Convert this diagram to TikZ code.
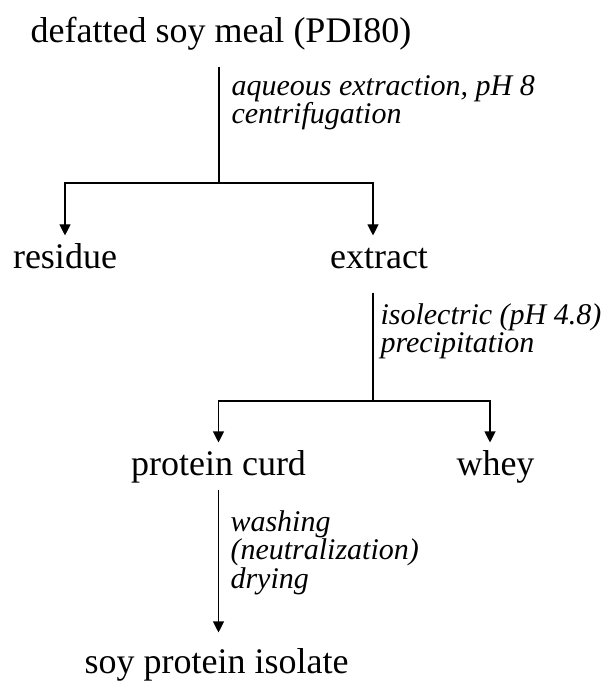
\documentclass[tikz,border=0pt]{standalone}
\usepackage{fontspec}
\setmainfont{Liberation Serif}
\usetikzlibrary{arrows.meta}

\begin{document}
\begin{tikzpicture}[x=1pt,y=-1pt,line width=1.1pt,
mat/.style={inner sep=0pt,anchor=base,text height=25pt,text depth=8pt,
  font=\fontsize{36}{40}\selectfont},
proc/.style={inner sep=0pt,anchor=base west,align=left,
  font=\fontsize{30}{25.5}\selectfont\itshape},
arr/.style={-{Triangle[length=11pt,width=11pt]}}]
\useasboundingbox (0,0) rectangle (602,684);
\node[mat] (meal) at (221,43) {defatted soy meal (PDI80)};
\node[mat] (residue) at (65,268) {residue};
\node[mat] (extract) at (379,268) {extract};
\node[mat] (curd) at (218.5,475) {protein curd};
\node[mat] (whey) at (495.5,475) {whey};
\node[mat] (isolate) at (216.5,673) {soy protein isolate};
\coordinate (split1) at (219,183);
\coordinate (split2) at (373,401);
\draw[shorten <=15pt] (meal.south -| split1) -- (split1);
\draw[arr,shorten >=7pt] (split1) -| (residue.north);
\draw[arr,shorten >=7pt] (split1) -| ([xshift=-6pt]extract.north);
\draw[shorten <=16pt] (extract.south -| split2) -- (split2);
\draw[arr,shorten >=7pt] (split2) -| (curd.north);
\draw[arr,shorten >=7pt] (split2) -| ([xshift=-5.5pt]whey.north);
\draw[arr,shorten <=6pt,shorten >=15pt] (curd.south) -- (curd.south |- isolate.north);
% last line of each label sits on the given baseline
\node[proc] (step1) at (231,124) {aqueous extraction, pH 8\\centrifugation};
\node[proc] (step2) at (380,352) {isolectric (pH 4.8)\\precipitation};
\node[proc] (step3) at (230,588) {washing\\(neutralization)\\drying};
\end{tikzpicture}
\end{document}
